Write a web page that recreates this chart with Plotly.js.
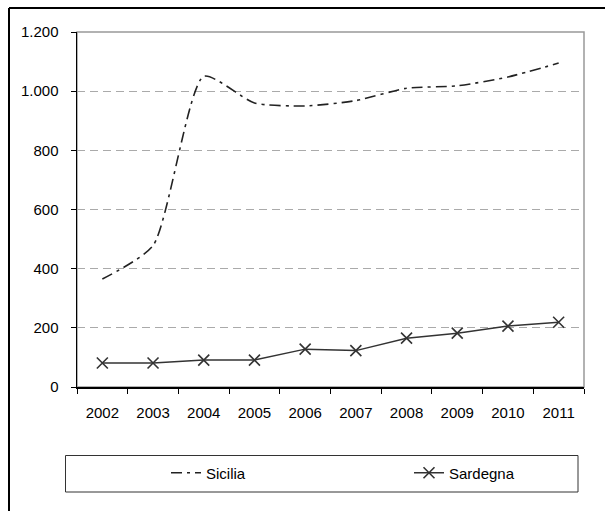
<!DOCTYPE html>
<html><head><meta charset="utf-8">
<script src="https://cdn.plot.ly/plotly-3.0.1.min.js"></script>
<style>html,body{margin:0;padding:0;background:#fff}#c{width:605px;height:511px}</style>
</head><body><div id="c"></div>
<script>
const years = ['2002','2003','2004','2005','2006','2007','2008','2009','2010','2011'];
const sicilia = [365, 478, 1050, 960, 950, 968, 1010, 1018, 1048, 1095];
const sardegna = [81, 81, 91, 91, 128, 123, 165, 182, 206, 219];
const yTickVals = [0, 200, 400, 600, 800, 1000, 1200];
const yTickText = ['0', '200', '400', '600', '800', '1.000', '1.200'];

const L = 77, R = 584, T = 32, B = 387;
const W = R - L, H = B - T;
const px = x => (x - L) / W;
const py = y => (B - y) / H;

const traces = [
  {x: years, y: sicilia, name: 'Sicilia', type: 'scatter', mode: 'lines', legendwidth: 198,
   line: {color: '#222', width: 1.6, dash: '11px,5px,3px,5px', shape: 'spline', smoothing: 0.6}},
  {x: years, y: sardegna, name: 'Sardegna', type: 'scatter', mode: 'lines+markers', legendwidth: 66,
   line: {color: '#333', width: 1.5},
   marker: {symbol: 'x-thin-open', size: 11, color: '#333', line: {color: '#333', width: 1.6}}}
];

const layout = {
  width: 605, height: 511,
  margin: {l: L, r: 605 - R, t: T, b: 511 - B, pad: 0},
  paper_bgcolor: '#fff', plot_bgcolor: '#fff',
  font: {family: 'Liberation Sans, Arial, sans-serif', size: 15, color: '#000'},
  showlegend: true,
  legend: {orientation: 'h', x: px(166), xanchor: 'left', y: py(473), yanchor: 'middle',
           borderwidth: 0, bgcolor: 'rgba(0,0,0,0)', font: {size: 15}},
  xaxis: {type: 'category', range: [-0.5, 9.5], showline: true, linecolor: '#000', linewidth: 1.5,
          ticks: 'outside', ticklen: 5, tickcolor: '#000', tickwidth: 1, tickson: 'boundaries',
          showgrid: false, zeroline: false, ticklabelstandoff: 11, fixedrange: true},
  yaxis: {range: [0, 1200], tickvals: yTickVals, ticktext: yTickText, showline: true, linecolor: '#000',
          linewidth: 1.5, ticks: 'outside', ticklen: 5, tickcolor: '#000', tickwidth: 1,
          showgrid: true, gridcolor: '#aaa', gridwidth: 1, griddash: '8px,5px', zeroline: false,
          ticklabelstandoff: 9, fixedrange: true},
  shapes: [
    {type: 'rect', xref: 'paper', yref: 'paper', x0: 0, x1: 1, y0: 0, y1: 1,
     line: {color: '#999', width: 1.5}, layer: 'below'},
    {type: 'line', xref: 'paper', yref: 'paper', x0: px(9), x1: px(9), y0: py(8), y1: py(512),
     line: {color: '#000', width: 2}},
    {type: 'line', xref: 'paper', yref: 'paper', x0: px(9), x1: px(606), y0: py(8), y1: py(8),
     line: {color: '#000', width: 2}},
    {type: 'rect', xref: 'paper', yref: 'paper', x0: px(65.5), x1: px(578), y0: py(455.5), y1: py(492),
     line: {color: '#333', width: 1}}
  ]
};
Plotly.newPlot('c', traces, layout, {displayModeBar: false, staticPlot: true});
</script></body></html>
